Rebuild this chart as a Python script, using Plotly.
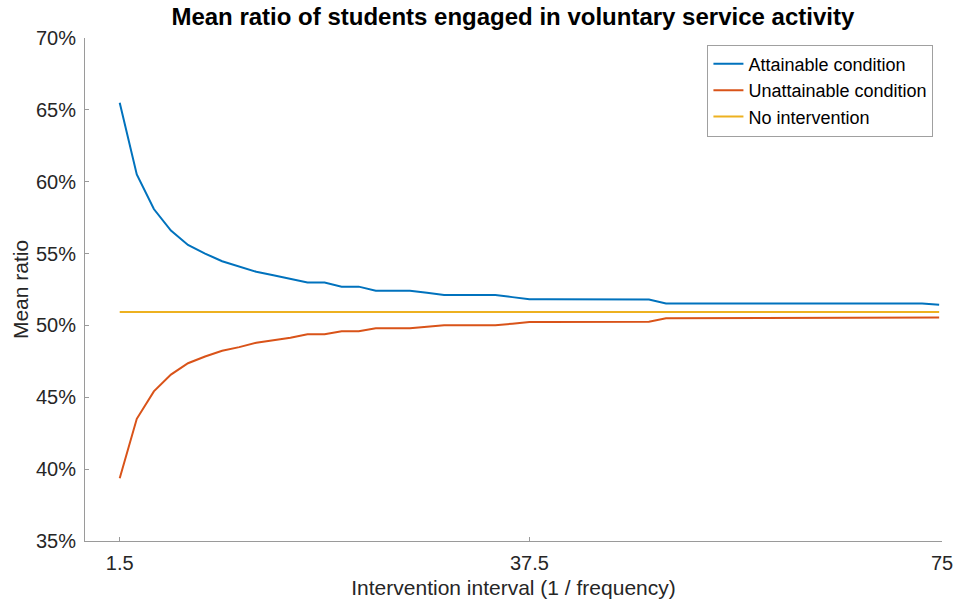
import plotly.graph_objects as go

# Intervention interval values (x categories)
intervals = [1.5 * i for i in range(1, 50)]

attainable = [65.5, 60.5, 58.1, 56.6, 55.6, 55.0, 54.47, 54.1, 53.73, 53.49,
              53.26, 52.98, 52.98, 52.7, 52.7, 52.42, 52.42, 52.42, 52.27, 52.12,
              52.12, 52.12, 52.12, 51.97,
              51.83, 51.83, 51.83, 51.83, 51.83, 51.83, 51.83,
              51.80,
              51.53, 51.53, 51.53, 51.53, 51.53, 51.53, 51.53, 51.53,
              51.53, 51.53, 51.53, 51.53, 51.53, 51.53, 51.53, 51.53,
              51.44]

unattainable = [39.37, 43.5, 45.41, 46.58, 47.37, 47.84, 48.24, 48.49, 48.80, 48.96,
                49.15, 49.38, 49.38, 49.59, 49.59, 49.80, 49.80, 49.80, 49.91, 50.02,
                50.02, 50.02, 50.02, 50.12,
                50.23, 50.23, 50.23, 50.23, 50.23, 50.23, 50.23,
                50.26,
                50.5, 50.5, 50.5, 50.5, 50.5, 50.5, 50.5, 50.5,
                50.5, 50.5, 50.5, 50.5, 50.5, 50.5, 50.5, 50.5,
                50.55]

no_intervention = [50.93] * len(intervals)

x_tick_labels = ["1.5", "37.5", "75"]
y_ticks = [35, 40, 45, 50, 55, 60, 65, 70]
y_tick_labels = ["35%", "40%", "45%", "50%", "55%", "60%", "65%", "70%"]

series_names = ["Attainable condition", "Unattainable condition", "No intervention"]
colors = ["#0072BD", "#D95319", "#EDB120"]

x_range = [-1.55, 73.75]

fig = go.Figure()
for name, ys, c in zip(series_names, [attainable, unattainable, no_intervention], colors):
    fig.add_trace(go.Scatter(x=intervals, y=ys, mode="lines", name=name,
                             line=dict(color=c, width=2)))

font_family = "Liberation Sans, Arial, sans-serif"
fig.update_layout(
    width=955, height=599,
    margin=dict(l=85, r=13, t=38, b=58),
    paper_bgcolor="white", plot_bgcolor="white",
    font=dict(family=font_family, size=20, color="#262626"),
    title=dict(text="Mean ratio of students engaged in voluntary service activity",
               x=0.537, xanchor="center", y=0.972, yanchor="middle", yref="container",
               font=dict(family=font_family, size=24, color="black", weight="bold")),
    showlegend=True,
    legend=dict(x=0.99, y=0.987, xanchor="right", yanchor="top",
                bgcolor="white", bordercolor="#a0a0a0", borderwidth=1,
                font=dict(family=font_family, size=18, color="black"),
                tracegroupgap=0, itemwidth=30,
                traceorder="normal"),
)
fig.update_xaxes(
    range=x_range, tickmode="array",
    tickvals=[intervals[0], intervals[24], x_range[1]],
    ticktext=x_tick_labels,
    showline=True, linecolor="#9a9a9a", linewidth=1,
    ticks="inside", ticklen=4, tickcolor="#9a9a9a",
    showgrid=False, zeroline=False, automargin=False,
    ticklabelstandoff=4,
    tickfont=dict(size=20),
    title=dict(text="Intervention interval (1 / frequency)", standoff=10,
               font=dict(size=21, color="#262626")),
)
fig.update_yaxes(
    range=[35, 70], tickmode="array", tickvals=y_ticks, ticktext=y_tick_labels,
    showline=True, linecolor="#9a9a9a", linewidth=1,
    ticks="inside", ticklen=4, tickcolor="#9a9a9a",
    showgrid=False, zeroline=False, automargin=False,
    ticklabelstandoff=4,
    tickfont=dict(size=20),
    title=dict(text="Mean ratio", standoff=1, font=dict(size=21, color="#262626")),
)

fig.write_html("out.html")
